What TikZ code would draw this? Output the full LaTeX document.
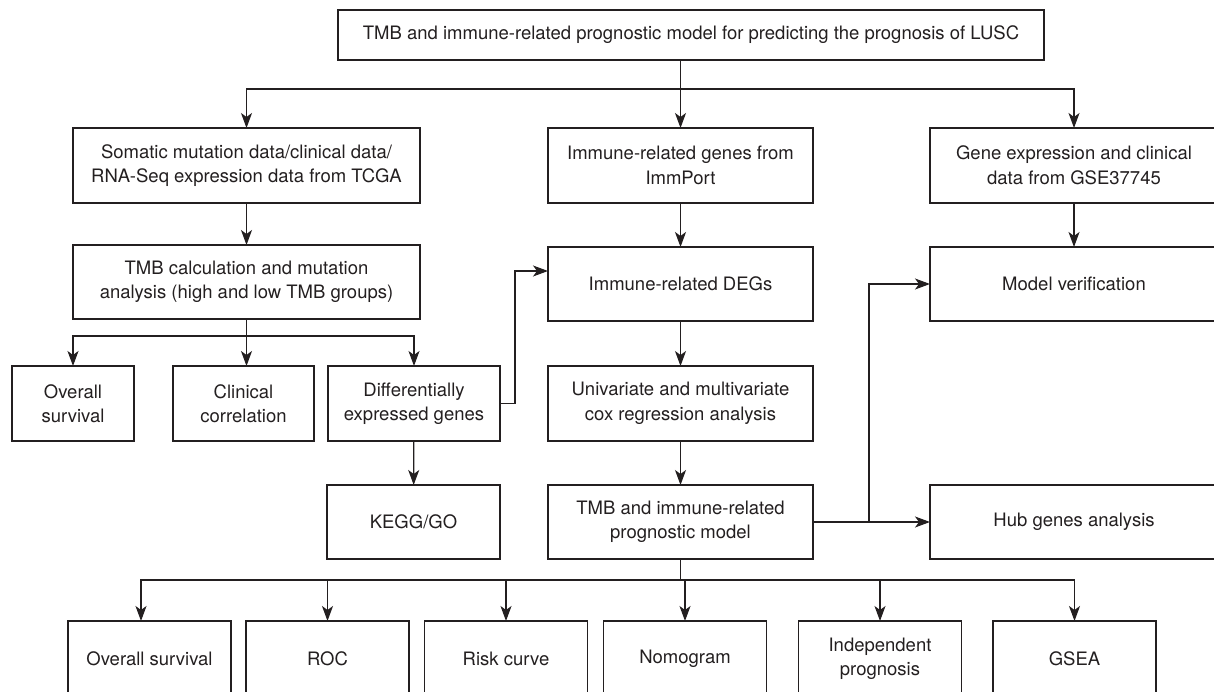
\documentclass[tikz,border=0pt]{standalone}
\usepackage{fontspec}
\setmainfont{TeX Gyre Heros}
\usepackage{tikz}
\usetikzlibrary{arrows.meta}
\definecolor{inkgray}{RGB}{35,31,32}
\newcommand{\flowfont}{\fontsize{18.5}{24.5}\selectfont}
\tikzset{
    flownode/.style = {
        align=center,
        text centered,
        font=\flowfont,
        rectangle,
        draw=inkgray,
        text=inkgray,
        line width=1.2pt,
        minimum height=75pt,
        inner sep=1mm,
        outer sep=0mm
    },
    sourcenode/.style = {
        flownode,
        minimum width=347pt
    },
    stepnode/.style = {
        flownode,
        minimum width=265pt
    },
    sidenode/.style = {
        flownode,
        minimum width=288pt
    },
    leafnode/.style = {
        flownode,
        minimum width=163pt,
        minimum height=76pt
    },
    flowarrow/.style = {
        draw=inkgray,
        line width=1.2pt,
        -{Stealth[length=15pt,width=11pt,inset=4pt]}
    },
    flowline/.style = {
        draw=inkgray,
        line width=1.2pt
    }
}

\begin{document}
\begin{tikzpicture}[x=1pt,y=-1pt]
    \useasboundingbox (0,0) rectangle (1214,692);
    % title
    \node [flownode, minimum width=706pt, minimum height=50pt] (title) at (691,35)
        {TMB and immune-related prognostic model for predicting the prognosis of LUSC};
    % data sources
    \node [sourcenode] (tcga) at (246.5,165.5)
        {Somatic mutation data/clinical data/\\RNA-Seq expression data from TCGA};
    \node [stepnode] (immport) at (680.5,165.5) {Immune-related genes from\\ImmPort};
    \node [sidenode] (geo) at (1074,165.5) {Gene expression and clinical\\data from GSE37745};
    % second step
    \node [sourcenode, minimum height=74pt] (tmbcalc) at (246.5,282)
        {TMB calculation and mutation\\analysis (high and low TMB groups)};
    \node [stepnode, minimum height=74pt] (immdegs) at (680.5,284) {Immune-related DEGs};
    \node [sidenode, minimum height=74pt] (verify) at (1074,284) {Model verification};
    % TMB groups
    \node [flownode, minimum width=122pt] (tmbos) at (73,403.5) {Overall\\survival};
    \node [flownode, minimum width=141pt] (clinical) at (243.5,403.5) {Clinical\\correlation};
    \node [flownode, minimum width=172pt] (diffgenes) at (414,403.5) {Differentially\\expressed genes};
    \node [stepnode] (coxreg) at (680.5,403.5) {Univariate and multivariate\\cox regression analysis};
    % model
    \node [flownode, minimum width=173pt, minimum height=74pt] (kegggo) at (413.5,522) {KEGG/GO};
    \node [stepnode, minimum height=74pt] (model) at (680.5,522) {TMB and immune-related\\prognostic model};
    \node [sidenode, minimum height=74pt] (hubgenes) at (1074,522) {Hub genes analysis};
    % model evaluation
    \node [leafnode] (evalos) at (149.5,659) {Overall survival};
    \node [leafnode] (evalroc) at (327.5,659) {ROC};
    \node [leafnode] (evalrisk) at (506,659) {Risk curve};
    \node [leafnode] (evalnomo) at (685,659) {Nomogram};
    \node [leafnode] (evalindep) at (880,659) {Independent\\prognosis};
    \node [leafnode] (evalgsea) at (1074.5,659) {GSEA};

    % junctions
    \coordinate (titlejoin) at (680.5,89);
    \coordinate (tmbjoin) at (246.5,336);
    \coordinate (degjoin) at (515,403.5);
    \coordinate (hubjoin) at (869,522);
    \coordinate (modeljoin) at (680.5,580);
    \coordinate (osentry) at ([xshift=-8.5pt]evalos.north);

    \draw [flowline] (title.south -| immport) -- (titlejoin);
    \draw [flowarrow] (titlejoin) -| (tcga.north);
    \draw [flowarrow] (titlejoin) -- (immport.north);
    \draw [flowarrow] (titlejoin) -| (geo.north);

    \draw [flowarrow] (tcga) -- (tmbcalc);
    \draw [flowarrow] (immport) -- (immdegs);
    \draw [flowarrow] (geo) -- (verify);

    \draw [flowline] (tmbcalc.south) -- (tmbjoin);
    \draw [flowarrow] (tmbjoin) -| (tmbos.north);
    \draw [flowarrow] (tmbjoin) -- (tmbjoin |- clinical.north);
    \draw [flowarrow] (tmbjoin) -| (diffgenes.north);

    \draw [flowarrow] (diffgenes.east) -- (degjoin) |- ([yshift=13pt]immdegs.west);
    \draw [flowarrow] (immdegs) -- (coxreg);
    \draw [flowarrow] (coxreg) -- (model);
    \draw [flowarrow] (diffgenes) -- (kegggo);

    \draw [flowarrow] (model.east) -- (hubgenes.west);
    \draw [flowarrow] (hubjoin) |- (verify.west);

    \draw [flowline] (model.south) -- (modeljoin);
    \draw [flowarrow] (modeljoin) -| (osentry);
    \foreach \leaf in {evalroc, evalrisk, evalnomo, evalindep, evalgsea}
        \draw [flowarrow] (modeljoin) -| (\leaf.north);
\end{tikzpicture}
\end{document}
